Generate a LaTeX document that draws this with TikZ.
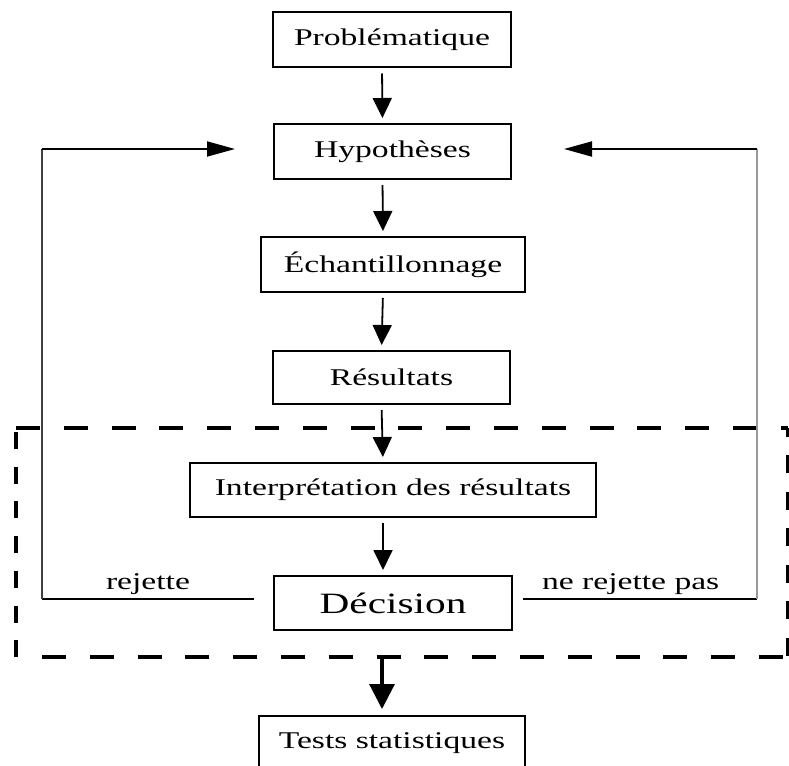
\documentclass[tikz,border=0pt]{standalone}
\usepackage{fontspec}
\setmainfont{Liberation Serif}[FakeStretch=1.4]
\usetikzlibrary{arrows.meta}

\begin{document}
\begin{tikzpicture}[x=1pt,y=-1pt,
  box/.style={draw,line width=2pt,minimum height=55pt,inner sep=0pt,font=\fontsize{24}{28}\selectfont},
  flow/.style={line width=1.8pt,-{Triangle[length=20pt,width=19pt]},shorten <=5pt,shorten >=5pt},
  loop/.style={line width=1.8pt},
  back/.style={-{Triangle[length=28pt,width=15pt]}},
  frame/.style={line width=3.2pt,dash pattern=on 24pt off 23.8pt},
  label/.style={font=\fontsize{24}{28}\selectfont,inner sep=3pt}]
  \useasboundingbox (0,0) rectangle (789,765);

  % boites
  \node[box,minimum width=238pt] (prob) at (392,40) {Problématique};
  \node[box,minimum width=237pt] (hyp) at (392.5,151.5) {Hypothèses};
  \node[box,minimum width=264pt] (ech) at (393,264.5) {Échantillonnage};
  \node[box,minimum width=237pt,minimum height=53pt] (res) at (391.5,377.5) {Résultats};
  \node[box,minimum width=406pt,minimum height=54pt] (interp) at (393,490) {Interprétation des résultats};
  \node[box,minimum width=238pt,minimum height=54pt,font=\fontsize{29.5}{34}\selectfont] (dec) at (393,603) {Décision};
  \node[box,minimum width=266pt] (tests) at (392,743.5) {Tests statistiques};

  % cadre en tirets
  \coordinate (ftl) at (16,428);
  \coordinate (ftr) at (787.5,428);
  \coordinate (fbl) at (42,657);
  \coordinate (fbr) at (787.5,657);
  \draw[frame] (ftl) -- (ftr);
  \draw[frame] (fbl) -- (fbr);
  \draw[frame,dash pattern=on 17pt off 17.7pt] (16,432) -- (16,657);
  \draw[frame,dash pattern=on 18pt off 18.5pt,dash phase=9.5pt] (ftr) -- (fbr);

  % fleches
  \draw[flow] ([xshift=-10pt]prob.south) -- ([xshift=-10pt]hyp.north);
  \draw[flow] ([xshift=-10pt]hyp.south) -- ([xshift=-10pt]ech.north);
  \draw[flow] ([xshift=-10pt]ech.south) -- ([xshift=-10pt]res.north);
  \draw[flow] ([xshift=-10pt]res.south) -- ([xshift=-10pt]interp.north);
  \draw[flow] ([xshift=-10pt]interp.south) -- ([xshift=-10pt]dec.north);
  \draw[line width=3.2pt,-{Triangle[length=25pt,width=25pt]},shorten >=6pt]
    ([xshift=-10pt]tests.north |- fbl) -- ([xshift=-10pt]tests.north);

  % retours
  \coordinate (lb) at (42,599);
  \coordinate (lt) at (42,149);
  \coordinate (rb) at (757,599);
  \coordinate (rt) at (757,149);
  \draw[loop] ([xshift=-19pt]lb -| dec.west) -- node[label,above] {rejette} (lb);
  \draw[loop,black!75] (lb) -- (lt);
  \draw[loop,back] (lt) -- ([xshift=-38pt]lt -| hyp.west);
  \draw[loop] ([xshift=10pt]rb -| dec.east) -- node[label,above,pos=0.46] {ne rejette pas} (rb);
  \draw[line width=2.8pt,black!40] (rb) -- (rt);
  \draw[loop,back] (rt) -- ([xshift=52pt]rt -| hyp.east);
\end{tikzpicture}
\end{document}
